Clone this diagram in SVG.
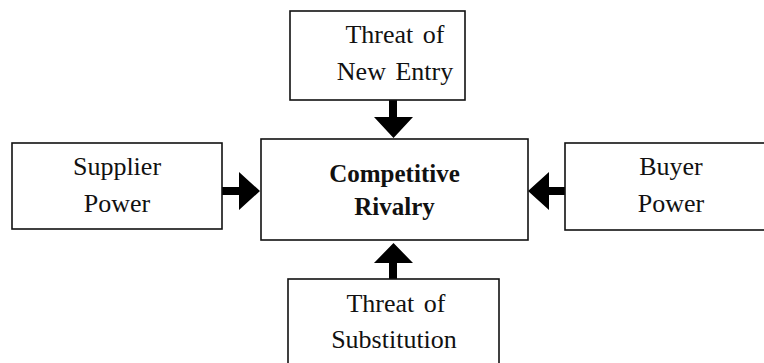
<svg xmlns="http://www.w3.org/2000/svg" width="764" height="363" viewBox="0 0 764 363">
<style>
.box{fill:#fff;stroke:#111;stroke-width:1.6}
.t{font-family:"Liberation Serif","Times New Roman",serif;font-size:26px;fill:#111;text-anchor:middle;word-spacing:3px}
.b{font-weight:bold;font-size:25px}
.arr{fill:#000}
</style>
<rect width="764" height="363" fill="#fff"/>
<g id="connectors">
<path class="arr" d="M389,100 H397 V117 H413 L393.5,138 L374,117 H389 Z"/>
<path class="arr" d="M222,187 H239 V172 L260,191 L239,210 V195 H222 Z"/>
<path class="arr" d="M565,187 H549 V172 L528,191 L549,210 V195 H565 Z"/>
<path class="arr" d="M389,279 H397 V263 H413 L393.5,243 L374,263 H389 Z"/>
</g>
<g id="new-entry">
<rect class="box" x="290" y="11" width="175" height="89"/>
<text class="t" x="395" y="43">Threat of</text>
<text class="t" x="395" y="80">New Entry</text>
</g>
<g id="supplier">
<rect class="box" x="12" y="143" width="210" height="86"/>
<text class="t" x="117" y="175">Supplier</text>
<text class="t" x="117" y="212">Power</text>
</g>
<g id="rivalry">
<rect class="box" x="261" y="139" width="267" height="101"/>
<text class="t b" x="394.5" y="182">Competitive</text>
<text class="t b" x="394.5" y="215">Rivalry</text>
</g>
<g id="buyer">
<rect class="box" x="565" y="143" width="220" height="87"/>
<text class="t" x="671" y="175">Buyer</text>
<text class="t" x="671" y="212">Power</text>
</g>
<g id="substitution">
<rect class="box" x="288" y="279" width="211" height="100"/>
<text class="t" x="396" y="312">Threat of</text>
<text class="t" x="394" y="348">Substitution</text>
</g>
</svg>
